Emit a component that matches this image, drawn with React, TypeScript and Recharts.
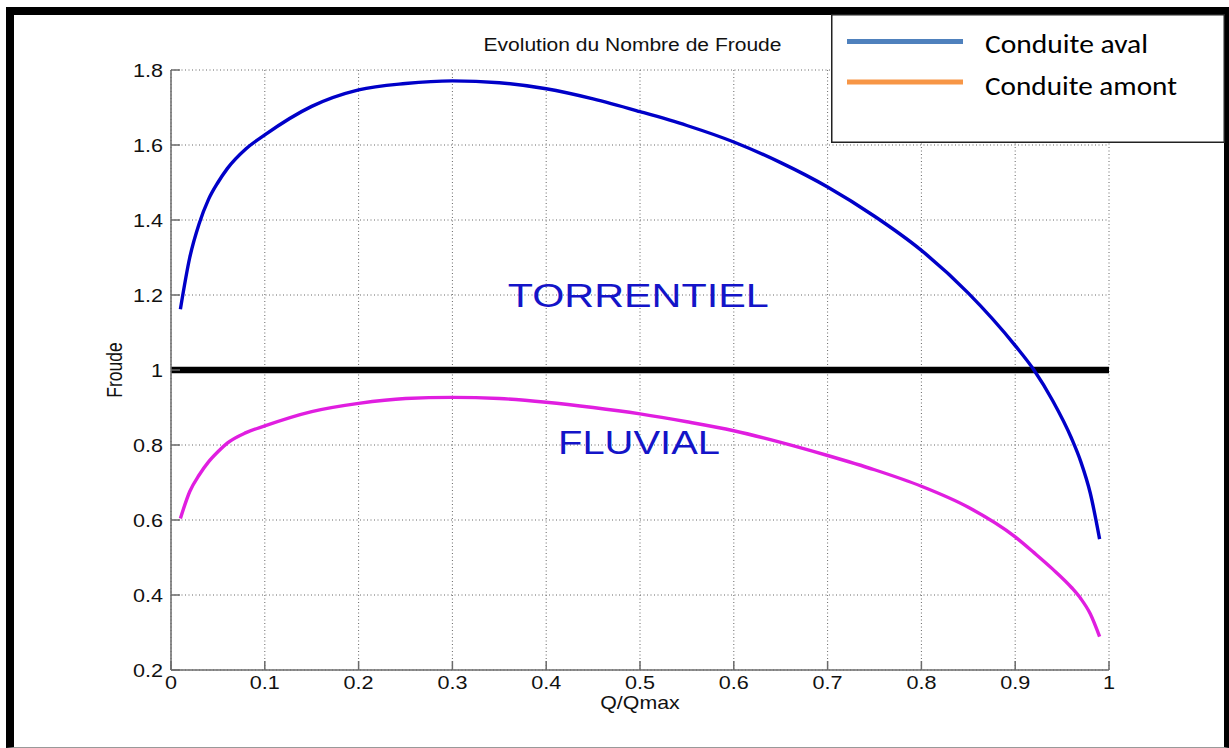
import React from 'react';
import { LineChart, Line, XAxis, YAxis, CartesianGrid, ReferenceLine, ReferenceDot, Legend, Label } from 'recharts';

// Q/Qmax sample points and Froude numbers
const qRatio = [0.01, 0.02, 0.03, 0.04, 0.05, 0.06, 0.08, 0.1, 0.15, 0.2, 0.25, 0.3, 0.35, 0.4, 0.45, 0.5, 0.55, 0.6, 0.65, 0.7, 0.75, 0.8, 0.85, 0.9, 0.92, 0.94, 0.96, 0.97, 0.98, 0.99];
const froudeAval = [1.162, 1.3, 1.39, 1.455, 1.5, 1.537, 1.59, 1.627, 1.703, 1.747, 1.764, 1.771, 1.766, 1.75, 1.723, 1.689, 1.652, 1.608, 1.553, 1.488, 1.41, 1.319, 1.205, 1.065, 1.0, 0.918, 0.818, 0.755, 0.672, 0.549];
const froudeAmont = [0.604, 0.676, 0.72, 0.755, 0.782, 0.805, 0.833, 0.851, 0.889, 0.911, 0.924, 0.927, 0.924, 0.914, 0.9, 0.883, 0.862, 0.838, 0.807, 0.772, 0.734, 0.69, 0.634, 0.555, 0.513, 0.469, 0.42, 0.39, 0.35, 0.289];

const xTicks = [0, 0.1, 0.2, 0.3, 0.4, 0.5, 0.6, 0.7, 0.8, 0.9, 1];
const yTicks = [0.2, 0.4, 0.6, 0.8, 1, 1.2, 1.4, 1.6, 1.8];

const seriesNames = ['Conduite aval', 'Conduite amont'];
const lineColors = ['#0000c8', '#e01ee0'];
const legendColors = ['#4f81bd', '#f79646'];
const legendTextWidths = [163, 192];

const regimeLabels = ['TORRENTIEL', 'FLUVIAL'];
const regimeAnchorQ = [0.359, 0.4126];
const regimeAnchorF = [1.168, 0.776];
const regimeTextWidths = [261, 162];

const data = qRatio.map((q, i) => ({ q, aval: froudeAval[i], amont: froudeAmont[i] }));

const FONT = "'Liberation Sans', Arial, Helvetica, sans-serif";
const AXIS = '#6b6b6b';

const XTick = (props: any) => {
    const { x, y, payload } = props;
    return <g>
        <line x1={x} y1={y} x2={x} y2={y - 9} stroke={AXIS} strokeWidth={1.5} />
        <text transform={`translate(${x},${y + 19}) scale(1.2,1)`} textAnchor="middle" fontSize={18} fill="#111" fontFamily={FONT}>
            {payload.value}
        </text>
    </g>;
};

const YTick = (props: any) => {
    const { x, y, payload } = props;
    return <g>
        <line x1={x} y1={y} x2={x + 9} y2={y} stroke={AXIS} strokeWidth={1.5} />
        <text transform={`translate(${x - 8},${y + 6.5}) scale(1.2,1)`} textAnchor="end" fontSize={18} fill="#111" fontFamily={FONT}>
            {payload.value}
        </text>
    </g>;
};

const XLabel = (props: any) => {
    const { viewBox } = props;
    const cx = viewBox.x + viewBox.width / 2;
    return <text transform={`translate(${cx},709) scale(1.22,1)`} textAnchor="middle" fontSize={17.5} fill="#111" fontFamily={FONT}>Q/Qmax</text>;
};

const YLabel = (props: any) => {
    const { viewBox } = props;
    const cy = viewBox.y + viewBox.height / 2;
    return <text transform={`translate(121.5,${cy}) scale(1.25,1) rotate(-90)`} textAnchor="middle" fontSize={17.5} fill="#111" fontFamily={FONT}>Froude</text>;
};

const regimeShape = (i: number) => (props: any) =>
    <text x={props.cx} y={props.cy} fontSize={34} fill="#1414c8" fontFamily={FONT}
        textLength={regimeTextWidths[i]} lengthAdjust="spacingAndGlyphs">
        {regimeLabels[i]}
    </text>;

const LegendBox = () => {
    return <svg width={394} height={129} style={{ display: 'block' }}>
        <defs>
            <filter id="lgShadow" x="-10%" y="-200%" width="120%" height="500%">
                <feGaussianBlur stdDeviation="1.5" />
            </filter>
        </defs>
        <rect x={0.75} y={0.75} width={392.5} height={127.5} fill="#fff" stroke="#222" strokeWidth={1.5} />
        {seriesNames.map((name, i) => {
            const ly = 27.5 + i * 40.5;
            return <g key={name}>
                <line x1={17} y1={ly + 3.5} x2={134} y2={ly + 3.5} stroke="#000" strokeOpacity={0.35} strokeWidth={4} filter="url(#lgShadow)" />
                <line x1={16} y1={ly} x2={132} y2={ly} stroke={legendColors[i]} strokeWidth={5} />
                <text x={154} y={38.5 + i * 42.5} fontSize={27} fill="#000" fontFamily="Carlito, Lato, 'Open Sans', sans-serif"
                    textLength={legendTextWidths[i]} lengthAdjust="spacingAndGlyphs">{name}</text>
            </g>;
        })}
    </svg>;
};

export default function App() {
    return <div style={{ position: 'absolute', left: 0, top: 0, width: 1229, height: 748, background: '#fff', overflow: 'hidden' }}>
        <div style={{
            position: 'absolute', left: 6, top: 7, width: 1223, height: 741, boxSizing: 'border-box',
            borderLeft: '8px solid #000', borderTop: '8px solid #000', borderRight: '5px solid #000', borderBottom: '1px solid #999',
        }} />
        <div style={{ position: 'absolute', left: 0, top: 0 }}>
            <LineChart width={1229} height={748} data={data} margin={{ top: 70, right: 120, bottom: 48, left: 0 }}>
                <CartesianGrid stroke="#666" strokeDasharray="1 2.5" />
                <XAxis dataKey="q" type="number" domain={[0, 1]} ticks={xTicks} height={30}
                    tick={<XTick />} tickLine={false} tickSize={0} tickMargin={0}
                    axisLine={{ stroke: AXIS, strokeWidth: 1.5 }}>
                    <Label content={<XLabel />} />
                </XAxis>
                <YAxis type="number" domain={[0.2, 1.8]} ticks={yTicks} width={171}
                    tick={<YTick />} tickLine={false} tickSize={0} tickMargin={0}
                    axisLine={{ stroke: AXIS, strokeWidth: 1.5 }}>
                    <Label content={<YLabel />} />
                </YAxis>
                <ReferenceLine y={1} stroke="#000" strokeWidth={6.5} />
                <Line type="monotone" dataKey="aval" name={seriesNames[0]} stroke={lineColors[0]} strokeWidth={3.4} dot={false} isAnimationActive={false} />
                <Line type="monotone" dataKey="amont" name={seriesNames[1]} stroke={lineColors[1]} strokeWidth={3.4} dot={false} isAnimationActive={false} />
                {regimeLabels.map((t, i) =>
                    <ReferenceDot key={t} x={regimeAnchorQ[i]} y={regimeAnchorF[i]} r={0} shape={regimeShape(i)} />
                )}
                <text x={632.5} y={51} fontSize={18} fill="#111" fontFamily={FONT} textAnchor="middle"
                    textLength={298} lengthAdjust="spacingAndGlyphs">Evolution du Nombre de Froude</text>
                <Legend content={<LegendBox />} layout="horizontal" verticalAlign="middle" align="center"
                    wrapperStyle={{ left: 831, top: 14, width: 394, height: 129 }} />
            </LineChart>
        </div>
    </div>;
}
